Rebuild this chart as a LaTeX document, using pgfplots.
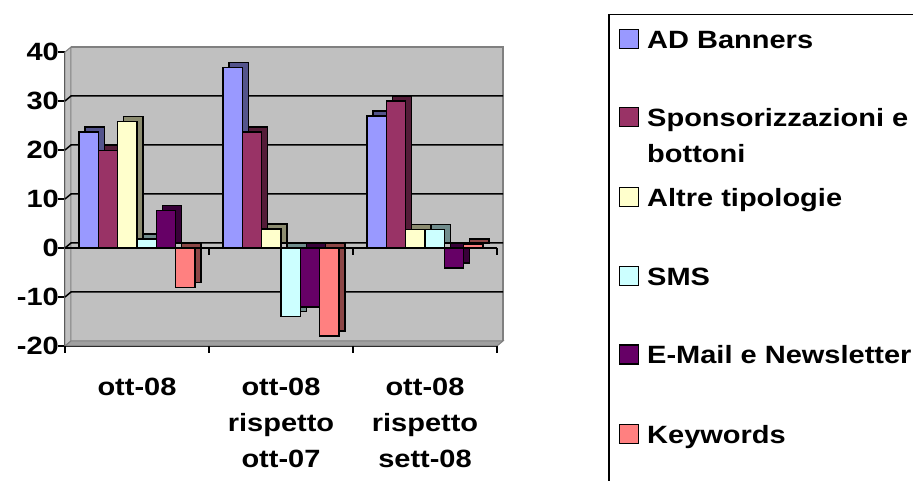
\documentclass[border=0pt]{standalone}
\usepackage{fontspec}
\setmainfont{Liberation Sans}[FakeStretch=1.16]
\usepackage{pgfplots}
\usepackage{pgfplotstable}
\pgfplotsset{compat=1.18}
\definecolor{cAD}{HTML}{9999FF}
\definecolor{cSP}{HTML}{993366}
\definecolor{cAL}{HTML}{FFFFCC}
\definecolor{cSM}{HTML}{CCFFFF}
\definecolor{cEM}{HTML}{660066}
\definecolor{cKW}{HTML}{FF8080}
\definecolor{wall}{HTML}{C0C0C0}
\definecolor{wedge}{HTML}{808080}
\definecolor{floor}{HTML}{A0A0A0}

\pgfplotstableread{
x AD SP AL SM EM KW
0 23.7 19.9 25.8 1.8 7.7 -8.1
1 36.8 23.7 3.9 -14.0 -12.0 -18.0
2 26.9 30.0 3.8 3.8 -4.1 0.8
}\datatable

\newcommand{\barpair}[3]{%
 \addplot[ybar, bar width=19.3pt, bar shift=#3, fill=#2!55!black, draw=black, line width=1.5pt, xshift=6pt, yshift=5pt, forget plot] table[x=x,y=#1]{\datatable};
 \addplot[ybar, bar width=19.3pt, bar shift=#3, fill=#2, draw=black, line width=1.5pt, forget plot] table[x=x,y=#1]{\datatable};
}
\newcommand{\legitem}[3]{%
 \filldraw[fill=#2, draw=black, line width=1.5pt] (619.5pt,#1pt) rectangle (638.5pt,#1pt+19pt);
 \node[anchor=base west, inner sep=0pt] at (647pt,#1pt) {#3};
}

\begin{document}
\begin{tikzpicture}[font=\fontsize{25}{36}\selectfont\bfseries]
\begin{axis}[
  at={(65pt,135pt)}, anchor=south west,
  scale only axis, width=432pt, height=294pt,
  xmin=-0.5, xmax=2.5, ymin=-20, ymax=40,
  clip=false,
  axis x line*=bottom, axis y line*=left,
  axis line style={-, line width=1.5pt},
  xtick={0,1,2},
  xticklabels={ott-08,{ott-08\\rispetto\\ott-07},{ott-08\\rispetto\\sett-08}},
  xtick style={draw=none},
  xticklabel style={align=center, anchor=north, inner sep=0pt, yshift=-25pt, font=\fontsize{25}{36}\selectfont\bfseries},
  ytick={-20,-10,0,10,20,30,40},
  yticklabels={-20,-10,0,10,20,30,40},
  ytick style={line width=1.5pt, black},
  tick align=outside, major tick length=7pt,
  yticklabel style={anchor=east, inner sep=0pt, xshift=1pt, font=\fontsize{25}{36}\selectfont\bfseries},
]
% walls
\fill[wall] ([shift={(6pt,5pt)}]axis cs:-0.5,-20) rectangle ([shift={(6pt,5pt)}]axis cs:2.5,40);
\filldraw[fill=wall, draw=wedge, line width=1pt] (axis cs:-0.5,-20) -- ([shift={(6pt,5pt)}]axis cs:-0.5,-20) -- ([shift={(6pt,5pt)}]axis cs:-0.5,40) -- (axis cs:-0.5,40) -- cycle;
\filldraw[fill=floor, draw=wedge, line width=1pt] (axis cs:-0.5,-20) -- (axis cs:2.5,-20) -- ([shift={(6pt,5pt)}]axis cs:2.5,-20) -- ([shift={(6pt,5pt)}]axis cs:-0.5,-20) -- cycle;
\draw[wedge, line width=1.5pt] ([shift={(6pt,5pt)}]axis cs:-0.5,40) -- ([shift={(6pt,5pt)}]axis cs:2.5,40) -- ([shift={(6pt,5pt)}]axis cs:2.5,-20);
\pgfplotsinvokeforeach{-10,0,10,20,30}{
  \draw[line width=1.5pt] (axis cs:-0.5,#1) -- ([shift={(6pt,5pt)}]axis cs:-0.5,#1) -- ([shift={(6pt,5pt)}]axis cs:2.5,#1);
}
% bars
\barpair{AD}{cAD}{-48.25pt}
\barpair{SP}{cSP}{-28.95pt}
\barpair{AL}{cAL}{-9.65pt}
\barpair{SM}{cSM}{9.65pt}
\barpair{EM}{cEM}{28.95pt}
\barpair{KW}{cKW}{48.25pt}
% zero axis and category ticks
\draw[line width=1.5pt] (axis cs:-0.5,0) -- (axis cs:2.5,0);
\pgfplotsinvokeforeach{0.5,1.5,2.5}{
  \draw[line width=1.5pt] (axis cs:#1,0) -- ([yshift=-7pt]axis cs:#1,0);
}
\pgfplotsinvokeforeach{-0.5,0.5,1.5,2.5}{
  \draw[line width=1.5pt] (axis cs:#1,-20) -- ([yshift=-7pt]axis cs:#1,-20);
}
\end{axis}
% legend
\draw[line width=1.5pt] (609pt,466.3pt) rectangle (950pt,-30pt);
\legitem{432.7}{cAD}{AD Banners}
\legitem{354.3}{cSP}{Sponsorizzazioni e}
\node[anchor=base west, inner sep=0pt] at (647pt,318.7pt) {bottoni};
\legitem{274.3}{cAL}{Altre tipologie}
\legitem{195.3}{cSM}{SMS}
\legitem{117}{cEM}{E-Mail e Newsletter}
\legitem{37.7}{cKW}{Keywords}
\pgfresetboundingbox
\path[use as bounding box] (0,0) rectangle (913pt,481pt);
\end{tikzpicture}
\end{document}
